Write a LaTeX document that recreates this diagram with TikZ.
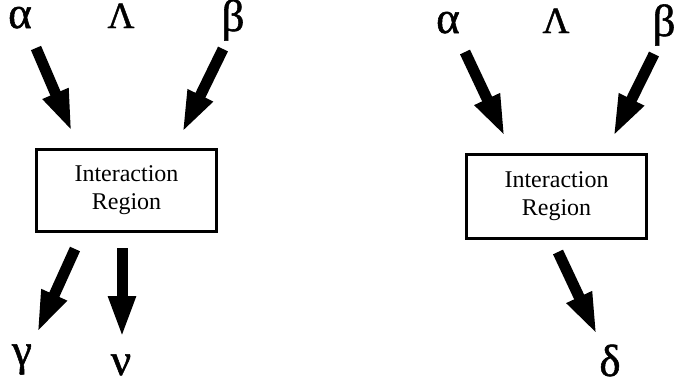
\documentclass[tikz,border=0pt]{standalone}
\usepackage{fontspec}
\setmainfont{Liberation Serif}
\newfontfamily\grk[FakeBold=1.2]{Liberation Serif}
\usetikzlibrary{arrows.meta}
\begin{document}
\begin{tikzpicture}[x=1pt,y=-1pt,
  greek/.style={anchor=base,inner sep=0pt,font=\grk\fontsize{45}{45}\selectfont},
  greekcap/.style={anchor=base,inner sep=0pt,font=\grk\fontsize{37}{37}\selectfont},
  regionbox/.style={draw,line width=3pt,minimum width=180pt,inner sep=0pt,align=center,
    font=\fontsize{24}{28}\selectfont},
  flow/.style={line width=11pt,-{Triangle[length=42pt,width=25pt]}}]
\useasboundingbox (0,0) rectangle (676,388);
% left diagram
\node[greek] (la) at (20,28) {α};
\node[greekcap] (lL) at (121,28) {Λ};
\node[greek] (lb) at (233,31) {β};
\node[regionbox,minimum height=82pt] (lbox) at (126.5,190.5) {Interaction\\Region};
\node[greek] (lg) at (22,365) {γ};
\node[greek] (ln) at (121,375) {ν};
\coordinate (la1) at (36,48);  \coordinate (la2) at (72,132);
\coordinate (lb1) at (223,49); \coordinate (lb2) at (182,133);
\coordinate (lg1) at (75,249); \coordinate (lg2) at (37,333);
\coordinate (ln1) at (122,248); \coordinate (ln2) at (122,338);
\draw[flow] (la1) -- (la2);
\draw[flow] (lb1) -- (lb2);
\draw[flow] (lg1) -- (lg2);
\draw[flow] (ln1) -- (ln2);
% right diagram
\node[greek] (ra) at (448,33) {α};
\node[greekcap] (rL) at (556,33) {Λ};
\node[greek] (rb) at (664,36) {β};
\node[regionbox,minimum height=84pt] (rbox) at (556.5,196.5) {Interaction\\Region};
\node[greek] (rd) at (610,376) {δ};
\coordinate (ra1) at (465,52);  \coordinate (ra2) at (505,137);
\coordinate (rb1) at (654,54);  \coordinate (rb2) at (613,137);
\coordinate (rd1) at (558,252); \coordinate (rd2) at (597,335);
\draw[flow] (ra1) -- (ra2);
\draw[flow] (rb1) -- (rb2);
\draw[flow] (rd1) -- (rd2);
\end{tikzpicture}
\end{document}
